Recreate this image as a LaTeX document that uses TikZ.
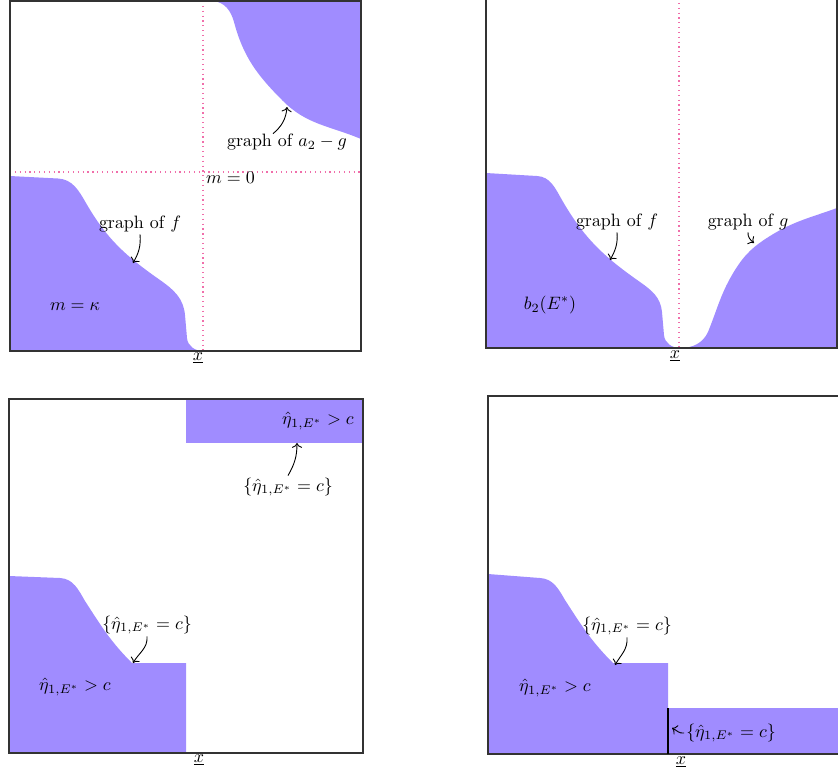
\documentclass[tikz,border=0pt]{standalone}
\usetikzlibrary{arrows.meta}
\definecolor{regfill}{RGB}{160,140,255}
\definecolor{dotpink}{RGB}{240,110,170}
\begin{document}
\begin{tikzpicture}[x=0.558pt,y=-0.558pt,
  frame/.style={draw=black!80,line width=0.7pt},
  reg/.style={fill=regfill},
  guide/.style={draw=dotpink,dotted,line width=0.7pt},
  arr/.style={->,line width=0.5pt},
  lbl/.style={inner sep=1pt}]
\useasboundingbox (0,0) rectangle (838,772);
% ---------- panel 1 ----------
\fill[reg] (10,176) -- (58,178.5) to[out=-3,in=120] (86,203) to[out=-60,in=145] (160,280) to[out=-35,in=95] (185,315) -- (187,338) to[out=-85,in=180] (203,351) -- (10,351) -- cycle;
\fill[reg] (213,1) to[out=-5,in=105] (234,22) to[out=-75,in=135] (283,101) to[out=-45,in=157] (361,139) -- (361,1) -- cycle;
\draw[guide] (203,1) -- (203,351);
\draw[guide] (10,172) -- (361,172);
\draw[frame] (10,1) rectangle (361,351);
\node[lbl] (ag) at (287,142) {graph of $a_2-g$};
\coordinate (agt) at (287,107);
\draw[arr] (ag.north) ++(-14,2) coordinate (ags) (ags) to[out=40,in=-95] (agt);
\node[lbl,anchor=west] (m0) at (204,178) {$m=0$};
\node[lbl] (gf1) at (140,224) {graph of $f$};
\coordinate (gf1t) at (133,263);
\draw[arr] (gf1.south) to[out=-85,in=60] (gf1t);
\node[lbl] (mk) at (75,307) {$m=\kappa$};
\node[lbl] (x1) at (198,358) {$\underline{x}$};
% ---------- panel 2 ----------
\fill[reg] (486,173) -- (537,176) to[out=-3,in=120] (562,200) to[out=-60,in=145] (640,282) to[out=-35,in=95] (662,312) -- (664,335) to[out=-85,in=180] (680,348) to[out=0,in=-115] (708,332) to[out=68,in=-122] (735,270) to[out=58,in=-148] (770,236) to[out=32,in=-160] (837,208) -- (837,348) -- (486,348) -- cycle;
\draw[guide] (679,-2) -- (679,348);
\draw[frame] (486,-3) rectangle (837,348);
\node[lbl] (gf2) at (617,222) {graph of $f$};
\coordinate (gf2t) at (610,260);
\draw[arr] (gf2.south) to[out=-85,in=60] (gf2t);
\node[lbl] (gg) at (748,222) {graph of $g$};
\coordinate (ggt) at (754,243);
\draw[arr] (gg.south) to[out=-95,in=140] (ggt);
\node[lbl] (b2) at (550,305) {$b_2(E^*)$};
\node[lbl] (x2) at (675,356) {$\underline{x}$};
% ---------- panel 3 ----------
\fill[reg] (186,399) rectangle (363,443);
\fill[reg] (9,576) -- (60,578) to[out=-3,in=120] (85,601) to[out=-57,in=135] (132,663) -- (186,663) -- (186,753) -- (9,753) -- cycle;
\draw[frame] (9,399) rectangle (363,753);
\node[lbl] (g3a) at (318,421) {$\hat\eta_{1,E^*}>c$};
\node[lbl] (e3a) at (288,487) {$\{\hat\eta_{1,E^*}=c\}$};
\coordinate (e3at) at (297,443);
\draw[arr] (e3a.north) to[out=60,in=-90] (e3at);
\node[lbl] (e3b) at (147,625) {$\{\hat\eta_{1,E^*}=c\}$};
\coordinate (e3bt) at (133,663);
\draw[arr] (e3b.south) to[out=-85,in=60] (e3bt);
\node[lbl] (g3b) at (75,687) {$\hat\eta_{1,E^*}>c$};
\node[lbl] (x3) at (199,760) {$\underline{x}$};
% ---------- panel 4 ----------
\fill[reg] (488,574) -- (540,578) to[out=-3,in=120] (565,600) to[out=-57,in=135] (613,663) -- (668,663) -- (668,708) -- (838,708) -- (838,754) -- (488,754) -- cycle;
\draw[frame] (488,396) rectangle (839,754);
\draw[line width=1.3pt] (668,708) -- (668,754);
\node[lbl] (e4a) at (627,626) {$\{\hat\eta_{1,E^*}=c\}$};
\coordinate (e4at) at (615,665);
\draw[arr] (e4a.south) to[out=-85,in=60] (e4at);
\node[lbl] (g4) at (555,688) {$\hat\eta_{1,E^*}>c$};
\node[lbl] (e4b) at (731,733) {$\{\hat\eta_{1,E^*}=c\}$};
\coordinate (e4bt) at (672,728);
\draw[arr] (e4b.west) to[out=190,in=-25] (e4bt);
\node[lbl] (x4) at (681,762) {$\underline{x}$};
\end{tikzpicture}
\end{document}
